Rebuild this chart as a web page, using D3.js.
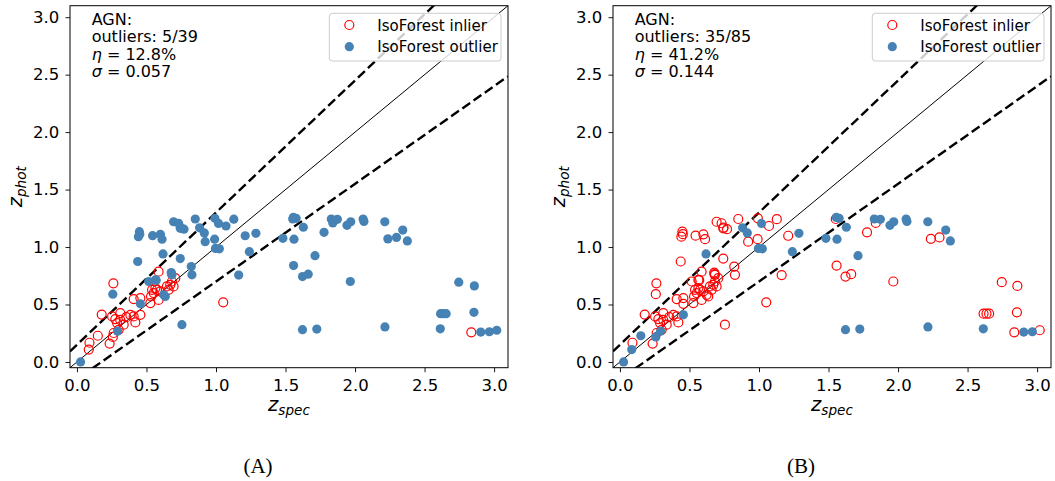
<!DOCTYPE html>
<html>
<head>
<meta charset="utf-8">
<script src="https://cdn.jsdelivr.net/npm/d3@7/dist/d3.min.js"></script>
<style>
  body { margin: 0; background: #fff; }
  svg { display: block; }
</style>
</head>
<body>
<svg id="fig" width="1055" height="481"></svg>
<script>
// Spectroscopic vs photometric redshift for the AGN sample
const zSpec = [
  0.026, 0.090, 0.085, 0.150, 0.178, 0.235, 0.258, 0.264, 0.292, 0.262,
  0.258, 0.253, 0.276, 0.312, 0.289, 0.336, 0.355, 0.384, 0.408, 0.420,
  0.456, 0.300, 0.408, 0.456, 0.456, 0.437, 0.449, 0.442, 0.528, 0.540,
  0.552, 0.533, 0.576, 0.587, 0.564, 0.647, 0.671, 0.695, 0.683, 0.707,
  0.659, 0.587, 0.635, 0.623, 0.564, 0.516, 0.678, 0.683, 0.619, 0.544,
  0.600, 0.612, 0.695, 0.731, 0.743, 0.770, 0.743, 0.755, 0.822, 0.827,
  0.851, 0.882, 0.916, 0.922, 0.990, 0.992, 1.018, 0.996, 1.024, 1.052,
  1.072, 1.128, 1.163, 1.210, 1.240, 1.287, 1.481, 1.556, 1.576, 1.552,
  1.628, 1.561, 1.777, 1.712, 1.558, 1.622, 1.663, 1.966, 1.829, 1.840,
  1.873, 1.942, 1.969, 2.058, 2.064, 2.214, 2.236, 2.298, 2.343, 2.376,
  1.622, 1.725, 2.215, 2.613, 2.615, 2.636, 2.655, 2.746, 2.858, 2.855,
  2.836, 2.904, 2.966, 3.019, 0.311, 0.600, 0.570, 0.680, 0.745, 0.452
];
const zPhot = [
  0.000, 0.167, 0.108, 0.228, 0.412, 0.160, 0.218, 0.252, 0.268, 0.684,
  0.590, 0.396, 0.373, 0.425, 0.338, 0.324, 0.390, 0.410, 0.396, 0.344,
  0.410, 0.280, 0.547, 0.556, 0.506, 0.874, 1.134, 1.090, 0.512, 0.628,
  0.599, 0.570, 0.628, 0.540, 0.643, 0.657, 0.671, 0.657, 0.700, 0.729,
  0.628, 0.786, 0.570, 0.584, 0.714, 0.700, 0.778, 0.758, 0.940, 1.099,
  1.111, 1.068, 1.220, 1.207, 1.163, 1.155, 0.900, 0.324, 0.830, 0.758,
  1.244, 1.167, 1.123, 1.047, 1.068, 1.250, 1.205, 0.988, 0.984, 0.519,
  1.183, 1.242, 0.756, 1.098, 0.960, 1.119, 1.076, 1.258, 1.250, 1.244,
  1.172, 1.068, 1.128, 0.925, 0.839, 0.743, 0.764, 0.700, 1.244, 1.210,
  1.241, 1.189, 1.220, 1.244, 1.222, 1.220, 1.071, 1.084, 1.148, 1.053,
  0.281, 0.286, 0.305, 0.288, 0.420, 0.420, 0.420, 0.694, 0.662, 0.432,
  0.258, 0.260, 0.263, 0.276, 0.367, 0.615, 0.712, 0.765, 1.170, 1.112
];
// 1 = IsoForest inlier, 0 = IsoForest outlier
const inlierA = [
  0, 1, 1, 1, 1, 1, 1, 1, 0, 1,
  0, 1, 1, 1, 1, 1, 1, 1, 1, 1,
  1, 1, 1, 1, 0, 0, 0, 0, 1, 1,
  1, 1, 1, 1, 1, 1, 1, 1, 1, 1,
  1, 1, 0, 0, 0, 0, 0, 0, 0, 0,
  0, 0, 0, 0, 0, 0, 0, 0, 0, 0,
  0, 0, 0, 0, 0, 0, 0, 0, 0, 1,
  0, 0, 0, 0, 0, 0, 0, 0, 0, 0,
  0, 0, 0, 0, 0, 0, 0, 0, 0, 0,
  0, 0, 0, 0, 0, 0, 0, 0, 0, 0,
  0, 0, 0, 0, 0, 0, 0, 0, 0, 0,
  1, 0, 0, 0, 1, 1, 0, 0, 0, 0
];
const inlierB = [
  0, 1, 0, 0, 1, 1, 0, 1, 0, 1,
  1, 1, 1, 1, 1, 1, 1, 1, 1, 1,
  0, 1, 1, 1, 1, 1, 1, 1, 1, 1,
  1, 1, 1, 1, 1, 1, 1, 1, 1, 1,
  1, 1, 1, 1, 1, 1, 1, 1, 0, 1,
  1, 1, 1, 1, 1, 1, 1, 1, 1, 1,
  1, 0, 0, 1, 1, 1, 0, 0, 0, 1,
  1, 1, 1, 1, 0, 0, 0, 0, 0, 1,
  0, 0, 1, 0, 1, 1, 1, 1, 0, 1,
  0, 0, 0, 0, 0, 0, 1, 1, 0, 0,
  0, 0, 0, 0, 1, 1, 1, 1, 1, 1,
  1, 0, 0, 1, 1, 1, 1, 1, 1, 1
];

const tickValues = [0.0, 0.5, 1.0, 1.5, 2.0, 2.5, 3.0];
const axisDomain = [-0.05, 3.1];
const outlierFrac = 0.15;
const sampleName = "AGN:";
const outlierText = ["outliers: 5/39", "outliers: 35/85"];
const etaText = ["12.8%", "41.2%"];
const sigmaText = ["0.057", "0.144"];
const legendLabels = ["IsoForest inlier", "IsoForest outlier"];
const captions = ["(A)", "(B)"];

const RED = "#ff0000";
const BLUE = "#4682b4";
const SANS = "DejaVu Sans, Verdana, sans-serif";

const svg = d3.select("#fig");
svg.append("rect").attr("width", 1055).attr("height", 481).attr("fill", "#fff");

const points = zSpec.map((zs, i) => ({ zs, zp: zPhot[i], a: inlierA[i], b: inlierB[i] }));

function drawPanel(idx, ox) {
  const L = ox + 70, R = ox + 508, T = 5.7, B = 367.7;
  const x = d3.scaleLinear().domain(axisDomain).range([L, R]);
  const y = d3.scaleLinear().domain(axisDomain).range([B, T]);
  const g = svg.append("g");

  const clipId = "clip" + idx;
  g.append("clipPath").attr("id", clipId)
    .append("rect").attr("x", L).attr("y", T).attr("width", R - L).attr("height", B - T);

  const plot = g.append("g").attr("clip-path", `url(#${clipId})`);

  // one-to-one relation and the |dz|/(1+z) = 0.15 boundaries
  const line = d3.line().x(d => x(d[0])).y(d => y(d[1]));
  const ends = axisDomain;
  const rel = [
    { f: z => z, w: 1.0, dash: null },
    { f: z => z + outlierFrac * (1 + z), w: 2.4, dash: "9.5,4.2" },
    { f: z => z - outlierFrac * (1 + z), w: 2.4, dash: "9.5,4.2" }
  ];
  rel.forEach(r => {
    plot.append("path")
      .attr("d", line(ends.map(z => [z, r.f(z)])))
      .attr("fill", "none").attr("stroke", "#000")
      .attr("stroke-width", r.w)
      .attr("stroke-dasharray", r.dash);
  });

  const flag = idx === 0 ? "a" : "b";
  // inliers as open red circles
  plot.selectAll("circle.in").data(points.filter(p => p[flag] === 1)).join("circle")
    .attr("class", "in")
    .attr("cx", d => x(d.zs)).attr("cy", d => y(d.zp)).attr("r", 4.5)
    .attr("fill", "none").attr("stroke", RED).attr("stroke-width", 1.2);
  // outliers as filled blue dots
  plot.selectAll("circle.out").data(points.filter(p => p[flag] === 0)).join("circle")
    .attr("class", "out")
    .attr("cx", d => x(d.zs)).attr("cy", d => y(d.zp)).attr("r", 4.6)
    .attr("fill", BLUE);

  // axes
  const fmt = d3.format(".1f");
  const xa = g.append("g").attr("transform", `translate(0,${B})`)
    .call(d3.axisBottom(x).tickValues(tickValues).tickFormat(fmt).tickSize(4.5).tickPadding(7));
  const ya = g.append("g").attr("transform", `translate(${L},0)`)
    .call(d3.axisLeft(y).tickValues(tickValues).tickFormat(fmt).tickSize(4.5).tickPadding(6.2));
  [xa, ya].forEach(a => {
    a.select(".domain").remove();
    a.attr("font-family", SANS).attr("font-size", 16.5);
    a.selectAll("line").attr("stroke", "#000").attr("stroke-width", 0.9);
    a.selectAll("text").attr("fill", "#000");
  });

  // frame
  g.append("rect").attr("x", L).attr("y", T).attr("width", R - L).attr("height", B - T)
    .attr("fill", "none").attr("stroke", "#000").attr("stroke-width", 1);

  // axis labels
  const xl = g.append("text").attr("x", (L + R) / 2).attr("y", 411)
    .attr("text-anchor", "middle").attr("font-family", SANS).attr("font-size", 19.5)
    .attr("font-style", "italic");
  xl.append("tspan").text("z");
  xl.append("tspan").attr("font-size", 13.6).attr("dy", 4).text("spec");

  const yl = g.append("text")
    .attr("transform", `translate(${ox + 22},${(T + B) / 2}) rotate(-90)`)
    .attr("text-anchor", "middle").attr("font-family", SANS).attr("font-size", 19.5)
    .attr("font-style", "italic");
  yl.append("tspan").text("z");
  yl.append("tspan").attr("font-size", 13.6).attr("dy", 4).text("phot");

  // statistics box
  const tx = L + 21.7;
  const st = g.append("g").attr("font-family", SANS).attr("font-size", 16).attr("fill", "#000");
  st.append("text").attr("x", tx).attr("y", 25).text(sampleName);
  st.append("text").attr("x", tx).attr("y", 42.3).text(outlierText[idx]);
  const eta = st.append("text").attr("x", tx).attr("y", 59.5);
  eta.append("tspan").attr("font-style", "italic").text("η");
  eta.append("tspan").text(" = " + etaText[idx]);
  const sig = st.append("text").attr("x", tx).attr("y", 76.7);
  sig.append("tspan").attr("font-style", "italic").text("σ");
  sig.append("tspan").text(" = " + sigmaText[idx]);

  // legend
  const lg = g.append("g");
  lg.append("rect").attr("x", L + 259.3).attr("y", 13.3).attr("width", 171.7).attr("height", 47.7)
    .attr("rx", 3).attr("fill", "#fff").attr("fill-opacity", 0.8)
    .attr("stroke", "#cccccc").attr("stroke-width", 1);
  lg.append("circle").attr("cx", L + 279.3).attr("cy", 25).attr("r", 4.5)
    .attr("fill", "none").attr("stroke", RED).attr("stroke-width", 1.2);
  lg.append("circle").attr("cx", L + 279.3).attr("cy", 46.7).attr("r", 4.6).attr("fill", BLUE);
  legendLabels.forEach((t, i) => {
    lg.append("text").attr("x", L + 307.3).attr("y", i === 0 ? 30.7 : 51.7)
      .attr("font-family", SANS).attr("font-size", 15).attr("fill", "#000").text(t);
  });

  // sub-figure caption
  g.append("text").attr("x", ox + 258).attr("y", 473).attr("text-anchor", "middle")
    .attr("font-family", "Liberation Serif, DejaVu Serif, serif").attr("font-size", 21)
    .attr("fill", "#000").text(captions[idx]);
}

drawPanel(0, 0);
drawPanel(1, 543);
</script>
</body>
</html>
